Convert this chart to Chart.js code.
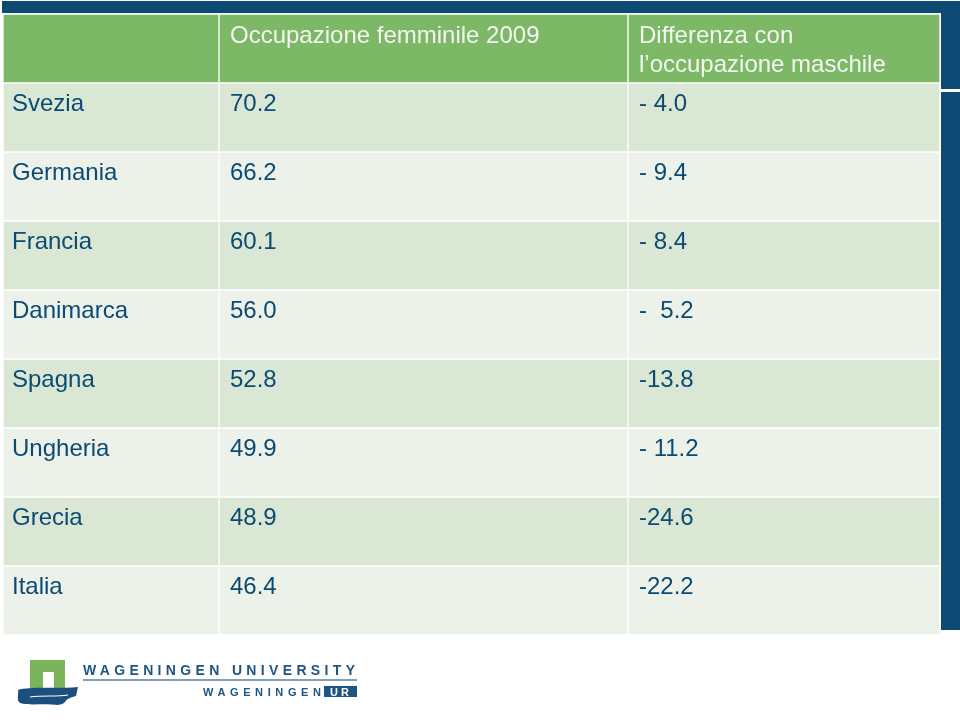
<!DOCTYPE html>
<html>
<head>
<meta charset="utf-8">
<script src="https://cdn.jsdelivr.net/npm/chart.js@4/dist/chart.umd.min.js"></script>
<style>
  html, body { margin: 0; padding: 0; background: #fff; }
  #wrap { width: 960px; height: 720px; }
</style>
</head>
<body>
<div id="wrap"><canvas id="tbl"></canvas></div>
<script>
// table content
const headers = ['', 'Occupazione femminile 2009', ['Differenza con', 'l\u2019occupazione maschile']];
const countries = ['Svezia', 'Germania', 'Francia', 'Danimarca', 'Spagna', 'Ungheria', 'Grecia', 'Italia'];
const occupazione = [70.2, 66.2, 60.1, 56.0, 52.8, 49.9, 48.9, 46.4];
const differenza = ['- 4.0', '- 9.4', '- 8.4', '-  5.2', '-13.8', '- 11.2', '-24.6', '-22.2'];

// column edges on the x scale (widths of the three columns)
const colEdges = [0, 216, 625, 937];

const rowLabels = ['header'].concat(countries);
const cellText = [
  [''].concat(countries),
  [headers[1]].concat(occupazione.map(v => v.toFixed(1))),
  [headers[2]].concat(differenza),
];

const FONT = '"Liberation Sans", Arial, sans-serif';
const GREEN = '#7db866';
const ROW_DARK = '#d9e7d4';
const ROW_LIGHT = '#ecf1ea';
const NAVY = '#0c4a74';

function cellColor(ctx) {
  if (ctx.dataIndex === 0) return GREEN;
  return ctx.dataIndex % 2 === 1 ? ROW_DARK : ROW_LIGHT;
}

const datasets = [0, 1, 2].map(c => ({
  label: 'col' + c,
  data: rowLabels.map(() => [colEdges[c], colEdges[c + 1]]),
  backgroundColor: cellColor,
  borderColor: '#ffffff',
  borderWidth: 1,
  borderSkipped: false,
}));

// slide frame: navy band on top and on the right
const framePlugin = {
  id: 'frame',
  beforeDraw(chart) {
    const { ctx, chartArea } = chart;
    ctx.save();
    ctx.fillStyle = NAVY;
    ctx.fillRect(2, 1, chart.width - 2, chartArea.top - 2);
    ctx.fillRect(chartArea.right + 1, 1, chart.width - chartArea.right, chartArea.bottom - 6);
    ctx.fillStyle = '#ffffff';
    ctx.fillRect(chartArea.right + 1, 89, chart.width - chartArea.right, 3);
    ctx.restore();
  }
};

// cell texts
const textPlugin = {
  id: 'cellText',
  afterDatasetsDraw(chart) {
    const { ctx } = chart;
    ctx.save();
    ctx.font = '24px ' + FONT;
    ctx.textAlign = 'left';
    ctx.textBaseline = 'alphabetic';
    chart.data.datasets.forEach((ds, c) => {
      const meta = chart.getDatasetMeta(c);
      meta.data.forEach((bar, r) => {
        const p = bar.getProps(['x', 'base', 'y', 'height'], true);
        const left = Math.min(p.x, p.base);
        const top = p.y - p.height / 2;
        const pad = c === 0 ? 9 : 11;
        const txt = cellText[c][r];
        ctx.fillStyle = r === 0 ? '#f3f8f1' : NAVY;
        const lines = Array.isArray(txt) ? txt : [txt];
        lines.forEach((t, i) => {
          ctx.fillText(t, left + pad, top + (r === 0 ? 29 : 28) + i * 29);
        });
      });
    });
    ctx.restore();
  }
};

function spacedText(ctx, txt, x, y, width) {
  ctx.letterSpacing = '0px';
  const base = ctx.measureText(txt).width;
  const ls = (width - base) / (txt.length - 1);
  ctx.letterSpacing = ls + 'px';
  ctx.fillText(txt, x, y);
  ctx.letterSpacing = '0px';
}

// university logo under the table
const logoPlugin = {
  id: 'logo',
  afterDraw(chart) {
    const { ctx } = chart;
    ctx.save();
    ctx.fillStyle = '#7ab55c';
    ctx.fillRect(30, 660, 35, 29);
    ctx.fillStyle = '#ffffff';
    ctx.fillRect(43, 672, 11, 17);
    ctx.fillStyle = '#1c4f7d';
    ctx.beginPath();
    ctx.moveTo(18, 690);
    ctx.bezierCurveTo(30, 686, 55, 689, 78, 687);
    ctx.lineTo(76, 696);
    ctx.bezierCurveTo(60, 700, 70, 703, 58, 705);
    ctx.bezierCurveTo(45, 703, 30, 706, 20, 703);
    ctx.bezierCurveTo(16, 700, 19, 695, 18, 690);
    ctx.fill();
    ctx.strokeStyle = '#ffffff';
    ctx.lineWidth = 1.2;
    ctx.beginPath();
    ctx.moveTo(30, 697);
    ctx.bezierCurveTo(45, 695, 55, 697, 68, 695);
    ctx.stroke();

    ctx.fillStyle = '#1d5585';
    ctx.textBaseline = 'alphabetic';
    ctx.font = 'bold 14px ' + FONT;
    spacedText(ctx, 'WAGENINGEN UNIVERSITY', 83, 675, 272);
    ctx.fillStyle = '#7f9fbd';
    ctx.fillRect(83, 679, 274, 2);
    ctx.fillStyle = '#1d5585';
    ctx.font = 'bold 11px ' + FONT;
    spacedText(ctx, 'WAGENINGEN', 203, 696, 118);
    ctx.fillRect(324, 686, 33, 11);
    ctx.fillStyle = '#ffffff';
    spacedText(ctx, 'UR', 330, 696, 19);
    ctx.restore();
  }
};

new Chart(document.getElementById('tbl'), {
  type: 'bar',
  data: { labels: rowLabels, datasets: datasets },
  options: {
    indexAxis: 'y',
    responsive: true,
    maintainAspectRatio: false,
    animation: false,
    grouped: false,
    barPercentage: 1,
    categoryPercentage: 1,
    layout: { padding: { left: 3, right: 20, top: 14, bottom: 85 } },
    plugins: {
      legend: { display: false },
      tooltip: { enabled: false },
    },
    scales: {
      x: { type: 'linear', min: colEdges[0], max: colEdges[colEdges.length - 1], display: false },
      y: { display: false },
    },
  },
  plugins: [framePlugin, textPlugin, logoPlugin],
});
</script>
</body>
</html>
